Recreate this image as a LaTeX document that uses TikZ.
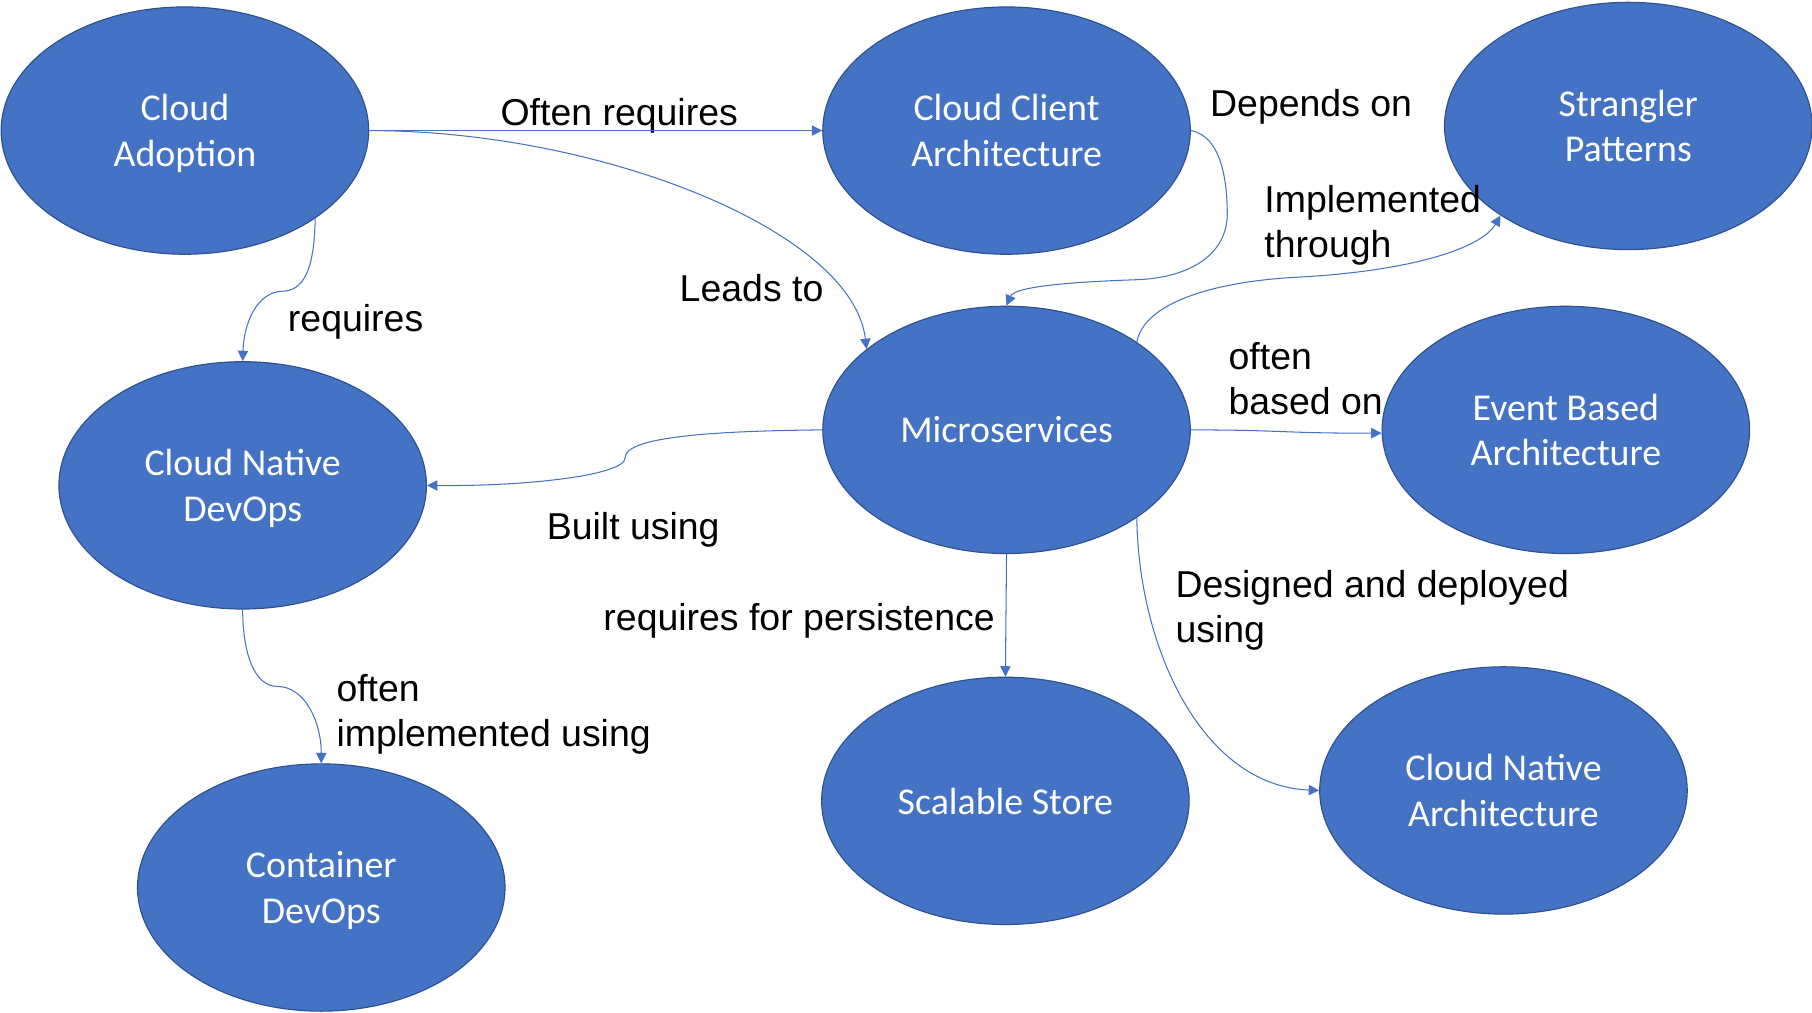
\documentclass[tikz,border=0pt]{standalone}
\usepackage{fontspec}
\setmainfont{Liberation Sans}
\newfontfamily\nodefont{Carlito}
\usetikzlibrary{arrows.meta,shapes.geometric}
\definecolor{nodefill}{HTML}{4472C4}
\definecolor{nodeedge}{HTML}{2F528F}
\definecolor{linkcol}{HTML}{4472C4}
\begin{document}
\begin{tikzpicture}[x=1pt,y=-1pt,
  concept/.style={draw=nodeedge, fill=nodefill, line width=1pt, ellipse,
    minimum width=318pt, minimum height=214pt, inner sep=0pt, text=white,
    font=\nodefont\fontsize{32.8}{39.5}\selectfont, align=center, text depth=0pt},
  lbl/.style={anchor=base west, inner sep=0pt, align=left,
    font=\fontsize{32.4}{39}\selectfont},
  link/.style={draw=linkcol, line width=0.9pt, -{Triangle[length=9pt,width=9pt]}}
]
\useasboundingbox (0,0) rectangle (1568,876);

\node[concept] (ca)  at (160,113)  {Cloud\\Adoption};
\node[concept] (cc)  at (871,113)  {Cloud Client\\Architecture};
\node[concept] (sp)  at (1409,109) {Strangler\\Patterns};
\node[concept] (ms)  at (871,372)  {Microservices};
\node[concept] (eba) at (1355,372) {Event Based\\Architecture};
\node[concept] (cnd) at (210,420)  {Cloud Native\\DevOps};
\node[concept] (ss)  at (870,693)  {Scalable Store};
\node[concept] (cna) at (1301,684) {Cloud Native\\Architecture};
\node[concept] (cd)  at (278,768)  {Container\\DevOps};

\node[lbl] (l1)  at (433,109)  {Often requires};
\node[lbl] (l2)  at (1047,101) {Depends on};
\node[lbl] (l3)  at (1094,223) {Implemented\\through};
\node[lbl] (l4)  at (588,261)  {Leads to};
\node[lbl] (l5)  at (249,287)  {requires};
\node[lbl] (l6)  at (1063,359) {often\\based on};
\node[lbl] (l7)  at (473,467)  {Built using};
\node[lbl] (l8)  at (522,546)  {requires for persistence};
\node[lbl] (l9)  at (1017,556) {Designed and deployed\\using};
\node[lbl] (l10) at (291,646)  {often\\implemented using};

\draw[link] (ca.east) -- (cc.west);
\draw[link] (ca.east) .. controls (520,113) and (738,200) .. (ms.150);
\draw[link] (ca.-34.5) .. controls (272,235) and (262,252) .. (244,252)
  .. controls (222,253) and (211,280) .. (cnd.north);
\draw[link] (cc.east) .. controls (1058,118) and (1062,160) .. (1062,185)
  .. controls (1062,220) and (1030,240) .. (985,242)
  .. controls (925,244) and (878,248) .. (ms.north);
\draw[link] (ms.34) .. controls (990,262) and (1050,244) .. (1120,240)
  .. controls (1220,235) and (1282,215) .. (sp.-145);
\draw[link] (ms.east) .. controls (1110,372) and (1110,375) .. (eba.181);
\draw[link] (ms.west) .. controls (600,373) and (541,380) .. (541,396)
  .. controls (541,412) and (450,421) .. (cnd.east);
\draw[link] (ms.south) -- (ss.north);
\draw[link] (ms.-34.5) .. controls (985,560) and (1040,680) .. (cna.west);
\draw[link] (cnd.south) .. controls (210,565) and (220,594) .. (240,594)
  .. controls (264,594) and (278,625) .. (cd.north);
\end{tikzpicture}
\end{document}
